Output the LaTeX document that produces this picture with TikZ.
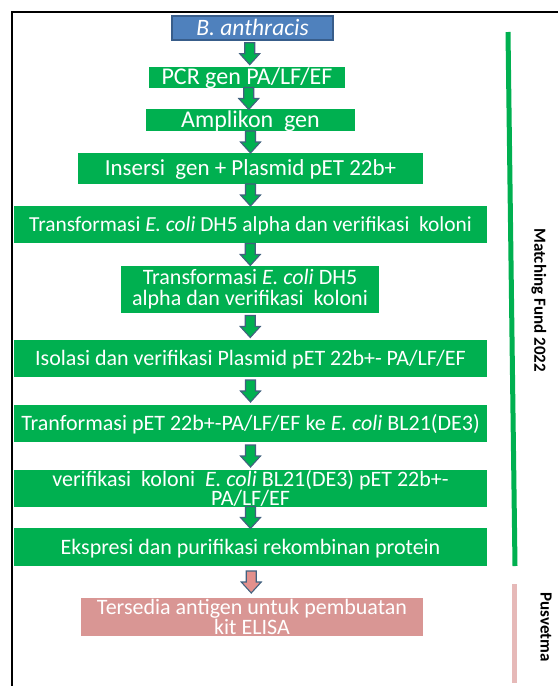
\documentclass[tikz,border=0pt]{standalone}
\usepackage{fontspec}
\setmainfont{Carlito}
\usepackage{tikz}
\usetikzlibrary{calc,positioning}
\definecolor{boxgreen}{HTML}{00B050}
\definecolor{boxblue}{HTML}{4F81BD}
\definecolor{lineblue}{HTML}{385D8A}
\definecolor{arrowedge}{HTML}{41617F}
\definecolor{boxpink}{HTML}{D99694}
\definecolor{arrowpink}{HTML}{E3908C}
\definecolor{barpink}{HTML}{E6B9B8}
\tikzset{
    mybox/.style={rectangle,fill=boxgreen,text=white,inner sep=0pt,align=center,font=\fontsize{22}{18}\selectfont},
    myline/.style={mybox,text height=15pt,text depth=1pt},
    mystart/.style={myline,fill=boxblue,draw=lineblue,line width=1.2pt},
    myend/.style={mybox,fill=boxpink},
    myside/.style={rotate=-90,inner sep=0pt,font=\fontsize{17}{17}\selectfont\bfseries},
    myarrow/.style={draw=arrowedge,line width=1.1pt,line join=miter}
}
\newcommand{\flowarrow}[3]{%
  \path ($(#1.south)!0.5!(#2.north)$) coordinate (m);
  \draw[myarrow,fill=#3] ([shift={(-5,-11)}]m) -- ([shift={(5,-11)}]m) -- ([shift={(5,0)}]m)
    -- ([shift={(10,0)}]m) -- ([shift={(0,11)}]m) -- ([shift={(-10,0)}]m) -- ([shift={(-5,0)}]m) -- cycle;
}

\begin{document}
\begin{tikzpicture}[x=1pt,y=-1pt]
  \useasboundingbox (0,0) rectangle (558,686);
  \draw[black,line width=2.5pt] (12,686) -- (12,12) -- (558,12);

  \node[mystart,minimum width=161pt,minimum height=24pt,font=\fontsize{23.5}{18}\selectfont\itshape] (anthracis) at (252.5,28) {B. anthracis};
  \node[myline,minimum width=196pt,minimum height=21pt,font=\fontsize{24}{18}\selectfont] (pcr) at (247,77.5) {PCR gen PA/LF/EF};
  \node[myline,minimum width=209pt,minimum height=22pt,font=\fontsize{24}{18}\selectfont] (amplikon) at (250.5,120) {Amplikon~ gen};
  \node[myline,minimum width=345pt,minimum height=31pt,font=\fontsize{23}{18}\selectfont] (insersi) at (250.5,168.5) {Insersi~ gen + Plasmid pET 22b+};
  \node[myline,minimum width=473pt,minimum height=37pt,font=\fontsize{21.4}{18}\selectfont] (dhfirst) at (250.5,224.5) {Transformasi \textit{E. coli} DH5 alpha dan verifikasi~ koloni};
  \node[mybox,minimum width=258pt,minimum height=47pt,font=\fontsize{22}{21}\selectfont] (dhsecond) at (250,289.5) {Transformasi \textit{E. coli} DH5\\alpha dan verifikasi~ koloni};
  \node[myline,minimum width=473pt,minimum height=37pt] (isolasi) at (250.5,358.5) {Isolasi dan verifikasi Plasmid pET 22b+- PA/LF/EF};
  \node[myline,minimum width=473pt,minimum height=37pt] (blexpr) at (250.5,423.5) {Tranformasi pET 22b+-PA/LF/EF ke \textit{E. coli} BL21(DE3)};
  \node[mybox,minimum width=473pt,minimum height=37pt] (verif) at (250.5,488.5) {verifikasi~ koloni~ \textit{E. coli} BL21(DE3) pET 22b+-\\PA/LF/EF};
  \node[myline,minimum width=473pt,minimum height=38pt] (ekspresi) at (250.5,547) {Ekspresi dan purifikasi rekombinan protein};
  \node[myend,minimum width=342pt,minimum height=38pt] (elisa) at (252,617) {Tersedia antigen untuk pembuatan\\kit ELISA};

  \foreach \a/\b in {anthracis/pcr,pcr/amplikon,amplikon/insersi,insersi/dhfirst,dhfirst/dhsecond,
    dhsecond/isolasi,isolasi/blexpr,blexpr/verif,verif/ekspresi}{
    \flowarrow{\a}{\b}{boxgreen}
  }
  \flowarrow{ekspresi}{elisa}{arrowpink}

  \draw[boxgreen,line width=5pt] (508,32) -- (515,566);
  \fill[barpink] (512,584) rectangle (517,683);
  \node[myside] (fund) at (539,300) {Matching Fund 2022};
  \node[myside] (pusvetma) at (546,627) {Pusvetma};
\end{tikzpicture}
\end{document}
